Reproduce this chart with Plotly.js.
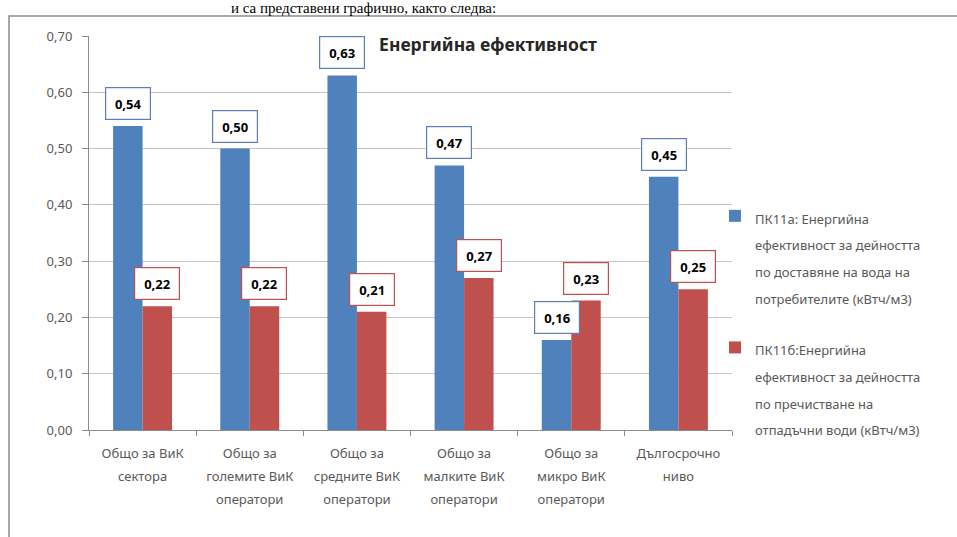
<!DOCTYPE html>
<html>
<head>
<meta charset="utf-8">
<script src="https://cdn.plot.ly/plotly-3.0.1.min.js"></script>
<style>html,body{margin:0;padding:0;background:#fff;}#chart{width:957px;height:537px;}</style>
</head>
<body>
<div id="chart"></div>
<script>
// ---- data ----
const categories = [
  'Общо за ВиК<br>сектора',
  'Общо за<br>големите ВиК<br>оператори',
  'Общо за<br>средните ВиК<br>оператори',
  'Общо за<br>малките ВиК<br>оператори',
  'Общо за<br>микро ВиК<br>оператори',
  'Дългосрочно<br>ниво'
];
const seriesAName = 'ПК11а: Енергийна<br>ефективност за дейността<br>по доставяне на вода на<br>потребителите (кВтч/м3)';
const seriesBName = 'ПК11б:Енергийна<br>ефективност за дейността<br>по пречистване на<br>отпадъчни води (кВтч/м3)';
const seriesA = [0.54, 0.50, 0.63, 0.47, 0.16, 0.45];
const seriesB = [0.22, 0.22, 0.21, 0.27, 0.23, 0.25];
const chartTitle = 'Енергийна ефективност';
const pageText = 'и са представени графично, както следва:';

// ---- styles ----
const W = 957, H = 537;
const M = {l: 89, r: 225, t: 36, b: 107, autoexpand: false};
const BLUE = '#4F81BD', RED = '#C0504D';
const FONT = 'Noto Sans, Open Sans, sans-serif';
const bargap = 0.45;

function wrapLines(txt, size) {
  return txt.split('<br>').map(l => '<span style="font-size:' + size + 'px">' + l + '</span>').join('<br>');
}

const traces = [
  {type: 'bar', x: categories, y: seriesA, name: wrapLines(seriesAName, 13),
   marker: {color: BLUE}, legendgroup: 'a', hoverinfo: 'none'},
  {type: 'bar', x: categories, y: seriesB, name: wrapLines(seriesBName, 13),
   marker: {color: RED}, legendgroup: 'b', hoverinfo: 'none'}
];

const plotW = W - M.l - M.r;
const plotH = H - M.t - M.b;
const catW = plotW / categories.length;
const barW = catW * (1 - bargap) / 2;

const annotations = [];
function addLabels(vals, shift, border) {
  vals.forEach((v, i) => {
    annotations.push({
      x: categories[i], y: v, xref: 'x', yref: 'y',
      text: '<b>' + v.toFixed(2).replace('.', ',') + '</b>',
      showarrow: false, xanchor: 'center', yanchor: 'bottom',
      xshift: shift, yshift: 6,
      bgcolor: '#ffffff', bordercolor: border, borderwidth: 1.2, borderpad: 1,
      width: 42, height: 29,
      font: {family: FONT, size: 13, color: '#000000'}
    });
  });
}
addLabels(seriesA, -barW / 2, '#5b7fb8');
addLabels(seriesB, barW / 2, '#c0504d');

// page text just above the chart frame
annotations.push({
  xref: 'paper', yref: 'paper',
  x: (497 - M.l) / plotW, y: (H - M.b + 1) / plotH,
  xanchor: 'right', yanchor: 'top', showarrow: false, borderpad: 0,
  text: pageText,
  font: {family: 'Liberation Serif, Times New Roman, serif', size: 15, color: '#000'}
});

const shapes = [{
  type: 'rect', xref: 'paper', yref: 'paper',
  x0: (9 - M.l) / plotW, x1: (965 - M.l) / plotW,
  y0: (H - M.b - 545) / plotH, y1: (H - M.b - 16) / plotH,
  line: {color: '#8c8c8c', width: 1.5}, fillcolor: 'rgba(0,0,0,0)', layer: 'below'
}];

const layout = {
  width: W, height: H,
  margin: M,
  paper_bgcolor: '#ffffff', plot_bgcolor: '#ffffff',
  separators: ', ',
  barmode: 'group', bargap: bargap, bargroupgap: 0,
  font: {family: FONT, color: '#595959'},
  title: {
    text: '<b>' + chartTitle + '</b>',
    xref: 'container', yref: 'container',
    x: 488 / W, xanchor: 'center', y: 1 - 45 / H, yanchor: 'middle',
    font: {family: FONT, size: 17.5, color: '#262626'}
  },
  xaxis: {
    type: 'category',
    tickmode: 'array', tickvals: categories,
    ticktext: categories.map(c => wrapLines(c, 13)),
    tickson: 'boundaries', ticks: 'outside', ticklen: 5, tickcolor: '#8c8c8c',
    showline: true, linecolor: '#8c8c8c', linewidth: 1,
    showgrid: false, tickangle: 0,
    tickfont: {family: FONT, size: 18, color: '#595959'},
    ticklabelstandoff: 5
  },
  yaxis: {
    range: [0, 0.7], dtick: 0.1, tick0: 0, tickformat: '.2f',
    ticks: 'outside', ticklen: 6, tickcolor: '#8c8c8c',
    showline: true, linecolor: '#8c8c8c', linewidth: 1,
    gridcolor: '#c4c4c4', gridwidth: 1, zeroline: false,
    tickfont: {family: FONT, size: 13, color: '#595959'},
    ticklabelstandoff: 7
  },
  showlegend: true,
  legend: {
    xref: 'container', yref: 'container',
    x: 715 / W, xanchor: 'left', y: 1 - 196 / H, yanchor: 'top',
    font: {family: FONT, size: 20.5, color: '#595959'},
    valign: 'top', itemwidth: 30, tracegroupgap: 22,
    traceorder: 'grouped', bgcolor: 'rgba(0,0,0,0)'
  },
  annotations: annotations,
  shapes: shapes
};

Plotly.newPlot('chart', traces, layout, {displayModeBar: false, staticPlot: true});
</script>
</body>
</html>
